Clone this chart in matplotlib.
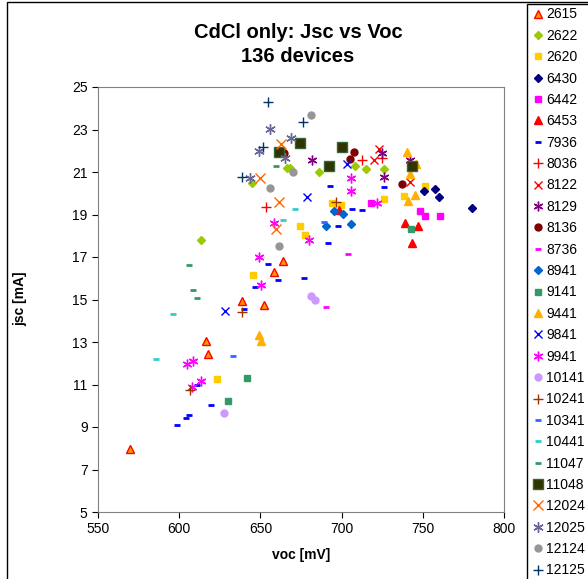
import matplotlib
matplotlib.use('Agg')
import matplotlib.pyplot as plt
from matplotlib.patches import Rectangle

plt.rcParams['font.family'] = ['Liberation Sans', 'DejaVu Sans']

# device data: voc [mV], jsc [mA]
voc_2615 = [663.9, 658.4, 638.7, 652.2, 616.5, 617.7, 569.7]
jsc_2615 = [16.81, 16.29, 14.93, 14.74, 13.05, 12.44, 7.96]
voc_2622 = [644.8, 666.4, 668.2, 686.1, 708.3, 715.0, 726.1, 613.4]
jsc_2622 = [20.48, 21.19, 21.19, 21.0, 21.28, 21.14, 21.14, 17.8]
voc_2620 = [751.4, 738.4, 726.1, 694.1, 699.6, 674.4, 677.5, 645.4, 623.3]
jsc_2620 = [20.34, 19.87, 19.73, 19.54, 19.45, 18.46, 18.04, 16.15, 11.26]
voc_6430 = [750.6, 757.7, 760.0, 780.1]
jsc_6430 = [20.12, 20.2, 19.82, 19.32]
voc_6442 = [718.1, 748.0, 751.4, 760.6]
jsc_6442 = [19.56, 19.16, 18.95, 18.93]
voc_6453 = [698.4, 738.9, 747.0, 743.2]
jsc_6453 = [19.21, 18.59, 18.48, 17.67]
voc_7936 = [692.7, 726.3, 706.6, 712.6, 697.8, 691.8, 676.8, 654.7,
            660.7, 646.9, 639.7, 611.1, 619.6, 606.2, 604.0, 598.5]
jsc_7936 = [20.34, 20.29, 19.27, 19.21, 18.46, 17.66, 16.01, 16.66,
            15.92, 15.6, 14.55, 10.98, 10.05, 9.55, 9.42, 9.08]
voc_8036 = [712.6, 724.9, 653.3]
jsc_8036 = [21.55, 21.66, 19.37]
voc_8122 = [722.8, 719.8, 742.2]
jsc_8122 = [22.08, 21.55, 20.55]
voc_8129 = [681.6, 724.9, 726.3, 742.1]
jsc_8129 = [21.55, 21.89, 20.75, 21.55]
voc_8136 = [707.6, 705.0, 737.4, 664.8]
jsc_8136 = [21.96, 21.61, 20.44, 21.88]
voc_8736 = [704.1, 690.4]
jsc_8736 = [17.16, 14.63]
voc_8941 = [695.3, 700.9, 690.4, 705.8]
jsc_8941 = [19.16, 19.02, 18.44, 18.57]
voc_9141 = [742.9, 641.6, 629.9]
jsc_9141 = [18.3, 11.31, 10.22]
voc_9441 = [740.1, 746.0, 742.1, 745.0, 741.1, 649.0, 650.2]
jsc_9441 = [21.92, 21.4, 20.91, 19.93, 19.64, 13.33, 13.03]
voc_9841 = [703.3, 678.7, 628.0]
jsc_9841 = [21.38, 19.82, 14.47]
voc_9941 = [705.8, 705.8, 721.6, 679.9, 658.4, 649.0, 650.2, 608.7, 604.8, 613.2, 607.7]
jsc_9941 = [20.7, 20.12, 19.56, 17.8, 18.62, 17.01, 15.7, 12.12, 11.95, 11.16, 10.9]
voc_10141 = [681.2, 683.6, 627.8]
jsc_10141 = [15.18, 14.98, 9.67]
voc_10241 = [696.4, 638.7, 606.7]
jsc_10241 = [19.6, 14.4, 10.74]
voc_10341 = [689.2, 632.9]
jsc_10341 = [18.63, 12.36]
voc_10441 = [671.1, 663.7, 596.0, 585.5]
jsc_10441 = [19.27, 18.76, 14.33, 12.19]
voc_11047 = [659.4, 606.0, 608.7, 611.0]
jsc_11047 = [21.28, 16.61, 15.46, 15.08]
voc_11048 = [661.5, 674.4, 700.4, 692.2, 743.5]
jsc_11048 = [21.94, 22.38, 22.16, 21.27, 21.27]
voc_12024 = [662.7, 649.9, 661.6, 659.4]
jsc_12024 = [22.3, 20.73, 19.57, 18.3]
voc_12025 = [656.1, 668.8, 649.1, 665.0, 643.4]
jsc_12025 = [23.02, 22.61, 21.97, 21.64, 20.7]
voc_12124 = [669.9, 655.9, 681.2, 661.5]
jsc_12124 = [21.01, 20.26, 23.68, 17.53]
voc_12125 = [654.5, 651.4, 638.5, 676.4]
jsc_12125 = [24.31, 22.16, 20.78, 23.35]

ASTER = (6, 2, 0)

# label, x, y, marker, face, edge, size
series = [
    ('2615', voc_2615, jsc_2615, '^', '#FF9900', '#FF0000', 5.5),
    ('2622', voc_2622, jsc_2622, 'D', '#99CC00', '#99CC00', 3.8),
    ('2620', voc_2620, jsc_2620, 's', '#FFCC00', '#FFCC00', 4.5),
    ('6430', voc_6430, jsc_6430, 'D', '#000080', '#000080', 3.8),
    ('6442', voc_6442, jsc_6442, 's', '#FF00FF', '#FF00FF', 4.5),
    ('6453', voc_6453, jsc_6453, '^', '#FF0000', '#FF0000', 5.5),
    ('7936', voc_7936, jsc_7936, '_', '#0000FF', '#0000FF', 5),
    ('8036', voc_8036, jsc_8036, '+', '#FF0000', '#FF0000', 7),
    ('8122', voc_8122, jsc_8122, 'x', '#FF0000', '#FF0000', 5.5),
    ('8129', voc_8129, jsc_8129, ASTER, '#800080', '#800080', 7),
    ('8136', voc_8136, jsc_8136, 'o', '#800000', '#800000', 5),
    ('8736', voc_8736, jsc_8736, '_', '#FF00FF', '#FF00FF', 5),
    ('8941', voc_8941, jsc_8941, 'D', '#0066CC', '#0066CC', 3.8),
    ('9141', voc_9141, jsc_9141, 's', '#339966', '#339966', 4.5),
    ('9441', voc_9441, jsc_9441, '^', '#FFB000', '#FFB000', 5.5),
    ('9841', voc_9841, jsc_9841, 'x', '#0000FF', '#0000FF', 5.5),
    ('9941', voc_9941, jsc_9941, ASTER, '#FF00FF', '#FF00FF', 7),
    ('10141', voc_10141, jsc_10141, 'o', '#CC99FF', '#CC99FF', 5),
    ('10241', voc_10241, jsc_10241, '+', '#993300', '#993300', 7),
    ('10341', voc_10341, jsc_10341, '_', '#3366FF', '#3366FF', 5),
    ('10441', voc_10441, jsc_10441, '_', '#33CCCC', '#33CCCC', 5),
    ('11047', voc_11047, jsc_11047, '_', '#339966', '#339966', 5),
    ('11048', voc_11048, jsc_11048, 's', '#333300', '#336633', 7.5),
    ('12024', voc_12024, jsc_12024, 'x', '#FF6600', '#FF6600', 7),
    ('12025', voc_12025, jsc_12025, ASTER, '#666699', '#666699', 7.5),
    ('12124', voc_12124, jsc_12124, 'o', '#969696', '#969696', 5),
    ('12125', voc_12125, jsc_12125, '+', '#003366', '#003366', 7.5),
]

fig = plt.figure(figsize=(5.88, 5.79), dpi=100)
ax = fig.add_axes([98 / 588, 67 / 579, 406 / 588, 425 / 579])

handles = []
for label, xs, ys, mk, fc, ec, ms in series:
    lw = 2 if mk == '_' else 1
    h, = ax.plot(xs, ys, ls='none', marker=mk, ms=ms, mfc=fc, mec=ec,
                 mew=lw, label=label)
    handles.append(h)

ax.set_xlim(550, 800)
ax.set_ylim(5, 25)
ax.set_xticks(range(550, 801, 50))
ax.set_yticks(range(5, 26, 2))
ax.tick_params(labelsize=10, length=4, direction='out', color='black')
for sp in ax.spines.values():
    sp.set_color('#808080')

fig.text(0.507, 1 - 44.5 / 579, 'CdCl only: Jsc vs Voc\n136 devices', ha='center',
         va='center', fontsize=14.5, fontweight='bold', linespacing=1.3)
fig.text(301 / 588, 1 - 555 / 579, 'voc [mV]', ha='center', va='center',
         fontsize=10, fontweight='bold')
fig.text(20 / 588, 1 - 299 / 579, 'jsc [mA]', ha='center', va='center',
         fontsize=10, fontweight='bold', rotation=90)

# outer chart border and legend box
fig.patches.append(Rectangle((7 / 588, -0.05), 1.1, 1 - 2 / 579 + 0.05,
                             transform=fig.transFigure, fill=False,
                             edgecolor='black', lw=1))
fig.patches.append(Rectangle((527 / 588, -0.05), 0.2, 1 - 4 / 579 + 0.05,
                             transform=fig.transFigure, fill=False,
                             edgecolor='black', lw=1))

fig.legend(handles=handles, loc='upper left', bbox_to_anchor=(524 / 588, 1.0),
           frameon=False, fontsize=10, labelspacing=0.532, handlelength=0.9,
           handletextpad=0.15, borderaxespad=0.15, borderpad=0.38)

fig.savefig('out.png', dpi=100)
